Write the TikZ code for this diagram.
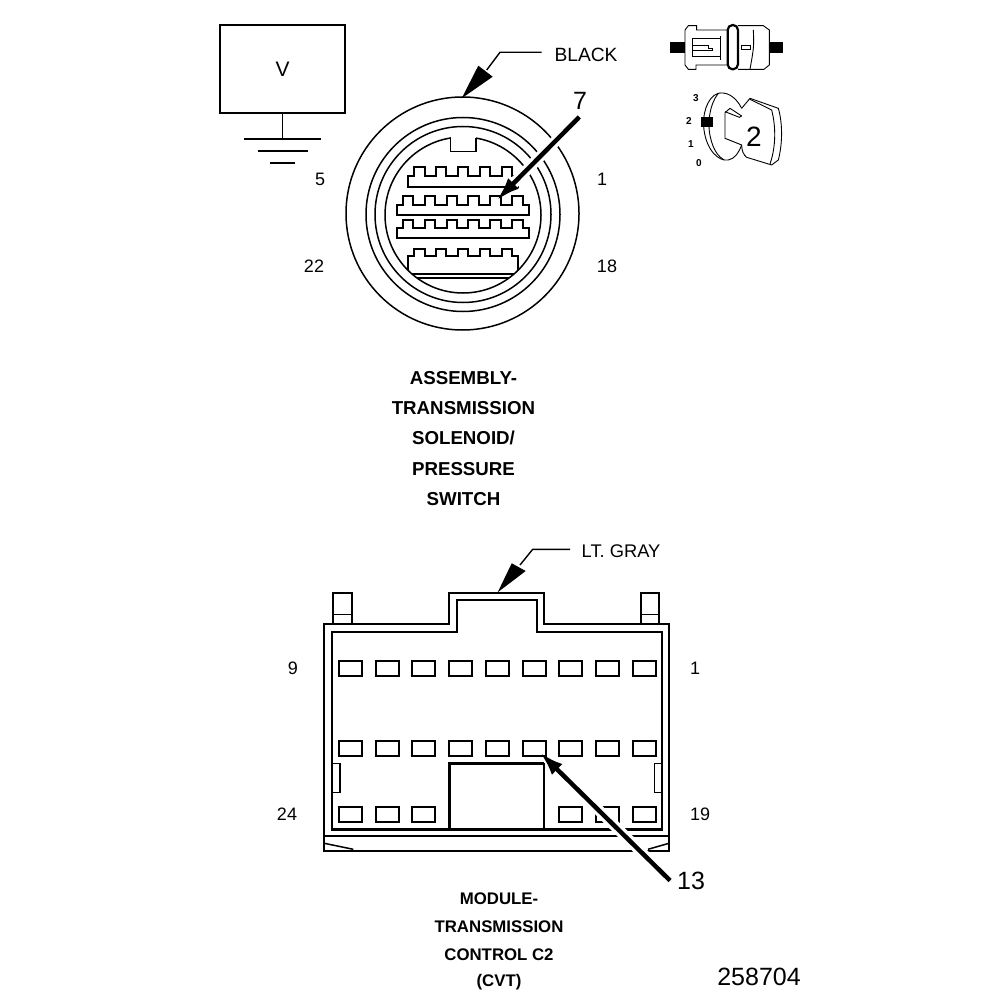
\documentclass[tikz,border=0pt]{standalone}
\usepackage{fontspec}
\setmainfont{Liberation Sans}
\usetikzlibrary{arrows.meta}
\tikzset{
    pinbox/.style={draw, line width=2pt},
    rowline/.style={draw, line width=2pt, line join=miter},
    thinline/.style={line width=1.5pt},
    pinlabel/.style={font=\fontsize{18}{18}\selectfont},
    captionline/.style={font=\bfseries\fontsize{18.7}{18.7}\selectfont},
    smallcaption/.style={font=\bfseries\fontsize{16.8}{16.8}\selectfont},
    calllabel/.style={font=\fontsize{25}{25}\selectfont},
    pointer/.style={line width=4.5pt, -{Latex[length=24pt,width=15pt]}},
    halo/.style={white, line width=11pt},
}
\begin{document}
\begin{tikzpicture}[x=1pt,y=-1pt]
    \useasboundingbox (0,0) rectangle (1008,1000);
    \fill[white] (0,0) rectangle (1008,1000);

    % Meter
    \node[draw, line width=2.2pt, minimum width=125pt, minimum height=88pt, font=\fontsize{21}{21}\selectfont] (meter) at (282.5,69) {V};
    \coordinate (gnd1) at (282.5,139);
    \draw[line width=1.8pt] (meter.south) -- (gnd1);
    \draw[line width=2.7pt] (244.3,139) -- (320.7,139);
    \draw[line width=1.6pt] (257.7,151) -- (307.7,151);
    \draw[line width=2.7pt] (270,163) -- (295,163);

    % Round connector
    \draw[thinline] (462.5,213.5) circle (116.5);
    \draw[thinline] (463,214.5) circle (97);
    \draw[thinline] (463,214.5) circle (88);
    \draw[thinline] (463,215) circle (78);
    \fill[white] (451,130) rectangle (476,151);
    \draw[thinline] (450.5,138) -- (450.5,151.7) -- (476.2,151.7) -- (476.2,138);
    \begin{scope}
        \clip (463,215) circle (78);
        \foreach \xa/\xb/\xt/\nt/\ya/\yb/\yc in {
            407.7/518.3/414/5/167.3/176/186.7,
            396.7/529/402.7/6/196/205/215,
            396.7/529/402.7/6/220/228.3/238.3,
            407.7/518.3/414/5/249/255.7/274.3
            } {
            \draw[rowline] (\xa,\yc) -- (\xa,\yb)
                foreach \i in {1,...,\nt} { -- ({\xt+(\i-1)*21.9},\yb) -- ++(0,\ya-\yb) -- ++(10.5,0) -- ++(0,\yb-\ya) }
                -- (\xb,\yb) -- (\xb,\yc) -- cycle;
        }
        \draw[line width=2.2pt] (410,277.8) -- (516,277.8);
    \end{scope}

    \node[pinlabel] (pinfive) at (320,179) {5};
    \node[pinlabel] (pinone) at (602,179) {1};
    \node[pinlabel] (pintwentytwo) at (314,266) {22};
    \node[pinlabel] (pineighteen) at (607,266) {18};

    % Callout 7
    \node[calllabel] (callseven) at (580,101) {7};
    \coordinate (seventail) at (579.3,117);
    \coordinate (seventip) at (496.5,200.5);
    \draw[halo] (seventail) -- (510,187);
    \draw[pointer] (seventail) -- (seventip);

    % Black leader
    \node[font=\fontsize{19.2}{19.2}\selectfont] (blacklabel) at (586,55) {BLACK};
    \coordinate (blackstart) at (541.7,52.3);
    \coordinate (blackbend) at (500,52.3);
    \coordinate (blackfoot) at (486.7,70);
    \draw[line width=1.4pt] (blackstart) -- (blackbend) -- (blackfoot);
    \fill (461.7,98.3) -- (478.3,65.7) -- (492.7,76.7) -- cycle;

    % Captions
    \foreach \y/\val in {
        378/{ASSEMBLY-},
        408/{TRANSMISSION},
        438/{SOLENOID/},
        469/{PRESSURE},
        499/{SWITCH}
        } {
        \node[captionline] at (463.5,\y) {\val};
    }

    % Small icons
    \begin{scope}[shift={(650,10)}, x=0.3333pt, y=-0.3333pt, line width=0.9pt]
        \fill (60,97) rectangle (105,128);
        \fill (358,97) rectangle (398,128);
        \draw (232,60) -- (140,60) -- (140,47) -- (115,47) -- (105,60) -- (105,165) -- (115,178) -- (138,178) -- (138,165) -- (232,165);
        \draw (212,85) -- (127,85) -- (127,140) -- (212,140);
        \draw (212,78) -- (212,150);
        \draw (130,105) -- (175,105) -- (175,115) -- (187,115) -- (187,122) -- (130,122);
        \draw[line width=2.2pt, rounded corners=5pt] (233,45) rectangle (264,178);
        \draw (264,47) -- (340,47) -- (358,60) -- (358,165) -- (342,178) -- (264,178);
        \draw (310,60) .. controls (312,110) .. (300,178);
        \draw (275,105) rectangle (300,118);
        % key
        \draw (275,295) .. controls (255,255) and (225,245) .. (205,250) .. controls (170,260) and (155,320) .. (162,360) .. controls (170,420) and (205,455) .. (235,450) .. controls (255,447) and (268,425) .. (275,405);
        \draw (205,250) .. controls (180,280) and (170,340) .. (182,385) .. controls (190,420) and (205,440) .. (222,450);
        \draw (275,318) -- (240,295) -- (225,308) -- (225,385) -- (275,405);
        \draw (225,305) -- (268,322) -- (275,318);
        \draw (275,295) -- (300,265) -- (385,295) .. controls (398,340) and (398,400) .. (385,450) -- (365,465) -- (290,442) .. controls (280,435) and (275,420) .. (275,405);
        \draw (300,268) -- (365,300) .. controls (378,350) and (378,410) .. (360,462);
        \fill (153,320) rectangle (190,350);
    \end{scope}
    \node[font=\fontsize{28}{28}\selectfont] (keynum) at (754,137) {2};
    \foreach \nm/\x/\y/\val in {
        keythree/696/98/3,
        keytwo/689/121/2,
        keyone/691/144/1,
        keyzero/699/163/0
        } {
        \node[font=\bfseries\fontsize{10}{10}\selectfont] (\nm) at (\x,\y) {\val};
    }

    % Rectangular connector
    \draw[line width=1.7pt] (324.3,850.7) -- (324.3,624) -- (449.3,624) -- (449.3,593.3) -- (544,593.3) -- (544,624) -- (669,624) -- (669,850.7) -- cycle;
    \draw[line width=2.4pt] (331.7,829.3) -- (331.7,631.7) -- (456.7,631.7) -- (456.7,600) -- (536.7,600) -- (536.7,631.7) -- (661.7,631.7) -- (661.7,829.3) -- cycle;
    \draw[thinline] (324.3,836) -- (669,836);
    \draw[thinline] (324.3,843.3) -- (353.3,849.3);
    \draw[thinline] (669,843.3) -- (648,849.3);
    % Tabs
    \foreach \x in {333.3,641} {
        \draw[line width=1.8pt] (\x,624) -- (\x,593.3) -- (\x+18.3,593.3) -- (\x+18.3,624);
        \draw[thinline] (\x,614.3) -- (\x+18.3,614.3);
    }
    % Pins
    \foreach \i in {0,...,8} {
        \draw[pinbox] ({339+\i*36.7},661) rectangle ++(23,15);
        \draw[pinbox] ({339+\i*36.7},741) rectangle ++(23,15);
    }
    \foreach \i in {0,1,2,6,7,8} {
        \draw[pinbox] ({339+\i*36.7},807) rectangle ++(23,15);
    }
    % Center block and side slots
    \draw[line width=2.4pt] (449.3,829.3) -- (449.3,763.3) -- (544,763.3);
    \draw[line width=1.7pt] (544,763.3) -- (544,829.3);
    \draw[thinline] (331.7,763.3) -- (340,763.3) -- (340,792.7) -- (331.7,792.7);
    \draw[thinline] (661.7,763.3) -- (654.3,763.3) -- (654.3,792.7) -- (661.7,792.7);

    \node[pinlabel] (pinnine) at (293,668) {9};
    \node[pinlabel] (pinfirst) at (695,668) {1};
    \node[pinlabel] (pintwentyfour) at (287,814) {24};
    \node[pinlabel] (pinnineteen) at (700,814) {19};

    % Callout 13
    \node[calllabel] (callthirteen) at (691,881) {13};
    \coordinate (thirteentail) at (670,880.5);
    \coordinate (thirteentip) at (540,752.5);
    \draw[halo] (thirteentail) -- (553,765);
    \draw[pointer] (thirteentail) -- (thirteentip);

    % Gray leader
    \node[font=\fontsize{18.3}{18.3}\selectfont] (graylabel) at (621,551) {LT. GRAY};
    \coordinate (graystart) at (570,549.3);
    \coordinate (graybend) at (532.7,549.3);
    \coordinate (grayfoot) at (520,565);
    \draw[line width=1.4pt] (graystart) -- (graybend) -- (grayfoot);
    \fill (497.7,592.3) -- (511.7,563.3) -- (525.7,571) -- cycle;

    \foreach \y/\val in {
        899/{MODULE-},
        927/{TRANSMISSION},
        955/{CONTROL C2},
        982/{(CVT)}
        } {
        \node[smallcaption] at (499,\y) {\val};
    }
    \node[font=\fontsize{25}{25}\selectfont] (partnum) at (759,977) {258704};
\end{tikzpicture}
\end{document}
